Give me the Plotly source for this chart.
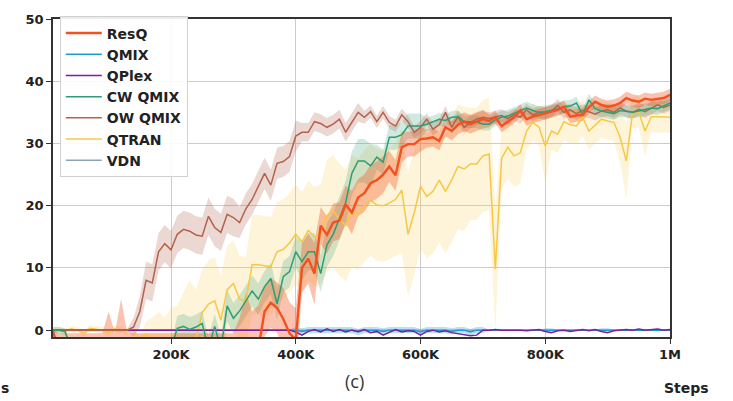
import plotly.graph_objects as go

steps = list(range(10000, 1000001, 10000))

resq = [
    0.0, -3, -3, -3, -3, -3, -3, -3, -3, -3,
    -3, -3, -3, -3, -3, -3, -3, -3, -3, -3,
    -3, -3, -3, -3, -3, -3, -3, -3, -3, -3,
    -3, -3, -3, -3,
    3.0, 4.4, 3.6, 1.8, -0.5, -1.5, 10.0, 11.5, 9.1, 16.8,
    15.3, 17.3, 17.6, 20.2, 18.9, 21.3, 22.0, 23.6, 24.1, 25.0,
    26.3, 24.9, 29.4, 29.9, 29.9, 30.7, 30.8, 31.0, 30.4, 32.6,
    32.0, 33.0, 33.5, 33.1, 33.5, 33.9, 33.6, 34.2, 32.8, 33.5,
    34.2, 35.3, 33.9, 34.3, 34.6, 34.8, 35.1, 35.4, 35.9, 34.3,
    34.5, 34.6, 35.8, 36.7, 36.2, 35.9, 36.1, 36.5, 37.3, 36.9,
    36.7, 37.2, 37.0, 37.1, 37.3, 37.8]
resq_std = [
    0.3, 2.5, 2.5, 2.5, 2.5, 2.5, 2.5, 2.5, 2.5, 6.0,
    2.5, 8.0, 2.5, 2.5, 2.5, 2.5, 2.5, 2.5, 2.5, 2.5,
    2.5, 2.5, 2.5, 2.5, 2.5, 2.5, 2.5, 2.5, 2.5, 2.5,
    5.0, 9.0, 6.0, 7.0, 4.0, 4.0, 4.0, 5.0, 5.0, 5.0,
    4.0, 4.0, 5.0, 3.0, 3.0, 3.0, 3.0, 3.0, 3.5, 3.0,
    3.0, 3.0, 3.0, 3.0, 2.5, 2.5, 2.5, 2.0, 2.0, 2.0,
    1.5, 1.5, 1.5, 1.5, 1.5, 1.5, 1.5, 1.5, 1.5, 1.5,
    1.0, 1.0, 1.0, 1.0, 1.0, 1.0, 1.0, 1.0, 1.0, 1.0,
    1.0, 1.0, 1.0, 1.0, 1.0, 1.0, 1.0, 1.0, 1.0, 1.0,
    1.0, 1.0, 1.0, 1.0, 1.0, 1.0, 1.0, 1.0, 1.0, 1.0]

qmix = [
    0, 0, 0, 0, 0, 0, 0, 0, 0, 0,
    0, 0, 0, 0, 0, 0, 0, 0, 0, 0,
    0, 0, 0, 0, 0, 0, 0, 0, 0, 0,
    0, 0, 0, 0, 0, 0, 0, 0, 0, 0,
    -0.2, 0, 0, 0, -0.1, 0, 0, 0, 0, -0.3,
    0, 0, 0, -0.2, 0, 0, 0, 0, 0, -0.3,
    0, 0, 0, 0, -0.2, 0, 0, -0.3, 0, 0,
    0, 0, 0, 0, 0, 0, 0, 0, 0, 0,
    0, 0, 0, 0, 0, 0, 0, 0, 0, 0,
    0, 0, 0, 0, 0, 0, 0, 0, 0, 0]
qmix_std = [
    0.1, 0.1, 0.1, 0.1, 0.1, 0.1, 0.1, 0.1, 0.1, 0.1,
    0.1, 0.1, 0.1, 0.1, 0.1, 0.1, 0.1, 0.1, 0.1, 0.1,
    0.1, 0.1, 0.1, 0.1, 0.1, 0.1, 0.1, 0.1, 0.1, 0.1,
    0.1, 0.1, 0.1, 0.1, 0.1, 0.1, 0.1, 0.1, 0.1, 0.5,
    0.5, 0.5, 0.5, 0.5, 0.5, 0.5, 0.5, 0.5, 0.5, 0.5,
    0.5, 0.5, 0.5, 0.5, 0.5, 0.5, 0.5, 0.5, 0.5, 0.5,
    0.5, 0.5, 0.5, 0.5, 0.5, 0.5, 0.5, 0.5, 0.5, 0.5,
    0.1, 0.1, 0.1, 0.1, 0.1, 0.1, 0.1, 0.1, 0.1, 0.3,
    0.3, 0.1, 0.1, 0.1, 0.1, 0.1, 0.1, 0.1, 0.3, 0.3,
    0.1, 0.1, 0.1, 0.1, 0.1, 0.1, 0.1, 0.1, 0.1, 0.1]

qplex = [
    0, 0, 0, 0, 0, 0, 0, 0, 0, 0,
    0, 0, 0, 0, 0, 0, 0, 0, 0, 0,
    0, 0, 0, 0, 0, 0, 0, 0, 0, 0,
    0, 0, 0, 0, 0, 0, 0, 0,
    0.0, -0.3, -0.8, -0.2, 0.1, -0.3, 0.2, -0.2, 0.1, -0.3,
    0.0, -0.2, 0.1, -0.4, -0.2, -0.8, -0.3, 0.1, -0.3, -0.1,
    -0.2, -0.8, -0.2, 0.0, -0.3, -0.1, -0.4, -0.6, -0.8, -0.9,
    -0.8, 0.0, 0.0, 0.1, 0.0, 0.0, 0.1, 0.0, -0.1, 0.0,
    0.1, -0.2, -0.4, -0.1, 0.0, -0.2, 0.0, 0.1, -0.1, 0.1,
    -0.2, -0.4, -0.1, 0.0, 0.1, 0.0, 0.2, 0.0, 0.1, 0.2,
    0.0, 0.1]

cw_qmix = [
    0.0, 0.0, -0.2, -3, -3, -3, -3, -3, -3, -3,
    -3, -3, -3, -3, -3, -3, -3, -3, -3, -3,
    0.3, 0.6, 0.1, 0.5, 1.1, -3, 0.6, -3, 3.9, 1.9,
    3.1, 4.7, 6.3, 5.0, 7.0, 8.3, 4.2, 8.6, 9.4, 12.6,
    11.0, 12.6, 12.6, 9.1, 13.7, 15.4, 17.8, 20.5, 25.2, 27.2,
    27.2, 26.4, 27.8, 27.0, 31.0, 31.0, 31.4, 32.8, 32.8, 32.8,
    33.1, 33.5, 33.9, 33.7, 34.2, 34.3, 33.5, 33.5, 33.5, 33.1,
    33.1, 33.8, 34.2, 34.4, 34.8, 35.2, 35.7, 35.3, 35.0, 35.1,
    35.3, 35.6, 35.9, 36.0, 36.5, 34.6, 37.0, 35.6, 35.2, 35.0,
    34.8, 35.3, 35.2, 35.0, 35.2, 35.5, 35.7, 35.6, 36.0, 36.5]
cw_qmix_std = [
    0.5, 0.5, 0.5, 0.5, 0.5, 0.5, 0.5, 0.5, 0.5, 0.5,
    0.5, 0.5, 0.5, 0.5, 0.5, 0.5, 0.5, 0.5, 0.5, 0.5,
    2.0, 2.0, 2.0, 2.0, 2.0, 2.0, 2.0, 2.0, 2.5, 2.5,
    2.5, 2.5, 2.5, 2.5, 2.5, 2.5, 2.5, 2.5, 2.5, 2.5,
    3.0, 3.0, 3.0, 3.0, 3.5, 3.5, 3.5, 3.5, 3.5, 3.5,
    3.5, 3.5, 2.0, 2.0, 2.0, 2.0, 2.0, 2.0, 2.0, 2.0,
    1.0, 1.0, 1.0, 1.0, 1.0, 1.0, 1.0, 1.0, 1.0, 1.0,
    1.0, 1.0, 1.0, 1.0, 1.0, 1.0, 1.0, 1.0, 1.0, 1.0,
    1.0, 1.0, 1.0, 1.0, 1.0, 1.0, 1.0, 1.0, 1.0, 1.0,
    1.0, 1.0, 1.0, 1.0, 1.0, 1.0, 1.0, 1.0, 1.0, 1.0]

ow_qmix = [
    0, 0, 0, 0, 0, 0, 0, 0, 0, 0,
    0, 0, 0, 0.5, 3.0, 8.0, 7.6, 12.6, 13.9, 12.9,
    15.4, 16.2, 15.9, 15.3, 15.1, 18.3, 16.5, 15.7, 18.6, 18.1,
    17.3, 19.5, 21.0, 23.1, 25.2, 23.3, 26.8, 27.1, 27.9, 31.2,
    31.8, 31.8, 33.5, 33.2, 32.6, 33.1, 33.9, 31.8, 33.5, 35.0,
    34.2, 35.1, 33.5, 35.0, 33.4, 32.8, 34.6, 33.5, 31.8, 32.6,
    33.9, 32.3, 33.0, 35.0, 32.6, 34.3, 32.6, 33.4, 33.9, 34.2,
    34.0, 34.3, 34.5, 34.0, 34.6, 34.2, 35.4, 34.6, 35.0, 34.8,
    35.2, 36.1, 35.0, 35.4, 34.8, 35.3, 35.1, 34.7, 35.2, 35.4,
    35.0, 35.7, 35.2, 35.0, 35.5, 35.1, 35.6, 36.2, 35.8, 36.2]
ow_qmix_std = [
    0.2, 0.2, 0.2, 0.2, 0.2, 0.2, 0.2, 0.2, 0.2, 0.2,
    0.2, 0.2, 0.2, 1.5, 2.5, 3.0, 3.0, 3.0, 3.0, 3.0,
    3.0, 3.0, 3.0, 3.0, 3.0, 3.0, 3.0, 3.0, 3.0, 3.0,
    2.5, 2.5, 2.5, 2.5, 2.5, 2.5, 2.5, 2.5, 2.5, 2.5,
    1.5, 1.5, 1.5, 1.5, 1.5, 1.5, 1.5, 1.5, 1.5, 1.5,
    1.0, 1.0, 1.0, 1.0, 1.0, 1.0, 1.0, 1.0, 1.0, 1.0,
    1.0, 1.0, 1.0, 1.0, 1.0, 1.0, 1.0, 1.0, 1.0, 1.0,
    1.0, 1.0, 1.0, 1.0, 1.0, 1.0, 1.0, 1.0, 1.0, 1.0,
    1.0, 1.0, 1.0, 1.0, 1.0, 1.0, 1.0, 1.0, 1.0, 1.0,
    1.0, 1.0, 1.0, 1.0, 1.0, 1.0, 1.0, 1.0, 1.0, 1.0]

qtran = [
    0.0, 0.1, -0.3, 0.2, 0.0, -0.5, 0.3, 0.1, 0.0, -0.4,
    0.2, 0.0, -0.3, 0.1, -2.0, -0.6, -2.0, -2.0, -2.0, -1.5,
    -2.0, -2.0, -2.0, -1.5, 2.8, 4.2, 4.7, 1.6, 6.5, 7.5,
    5.0, 4.7, 10.5, 10.5, 10.3, 10.2, 12.6, 13.0, 14.0, 15.4,
    14.2, 16.0, 15.0, 15.4, 18.4, 19.2, 17.8, 16.8, 19.2, 18.6,
    20.0, 20.9, 20.1, 20.0, 20.4, 21.0, 22.5, 15.4, 18.9, 23.1,
    21.5, 22.3, 24.1, 22.3, 24.1, 26.3, 25.9, 26.7, 26.7, 28.0,
    28.3, 9.8, 27.6, 29.4, 28.0, 28.5, 32.0, 33.4, 32.6, 29.6,
    32.0, 31.5, 33.5, 33.0, 32.8, 34.2, 32.0, 33.0, 33.9, 33.6,
    33.4, 31.0, 27.2, 35.0, 35.0, 32.0, 34.3, 34.3, 34.3, 34.2]
qtran_std = [
    0.5, 0.5, 0.5, 0.5, 0.5, 0.5, 0.5, 0.5, 0.5, 0.5,
    0.5, 0.5, 0.5, 0.5, 1.0, 2.0, 4.0, 5.0, 4.0, 5.0,
    6.0, 8.0, 10.0, 8.0, 7.0, 7.0, 7.0, 7.0, 7.0, 7.0,
    7.0, 7.0, 8.0, 8.0, 8.0, 8.0, 8.0, 8.0, 8.0, 8.0,
    8.0, 8.0, 8.0, 8.0, 9.0, 9.0, 9.0, 9.0, 9.0, 9.0,
    9.0, 9.0, 9.0, 9.0, 9.0, 9.0, 10.0, 10.0, 10.0, 10.0,
    10.0, 10.0, 10.0, 10.0, 10.0, 10.0, 10.0, 9.0, 9.0, 9.0,
    9.0, 10.0, 5.0, 5.0, 5.0, 5.0, 3.0, 3.0, 3.0, 6.0,
    3.0, 3.0, 3.0, 3.0, 3.0, 3.0, 3.0, 3.0, 3.0, 3.0,
    3.0, 4.0, 6.0, 2.5, 2.5, 4.0, 2.5, 2.5, 2.5, 2.5]

vdn = [
    0, 0, 0, 0, 0, 0, 0, 0, 0, 0,
    0, 0, 0, 0, 0, 0, 0, 0, 0, 0,
    0, 0, 0, 0, 0, 0, 0, 0, 0, 0,
    0, 0, 0, 0, 0, 0, 0, 0, 0, 0,
    0, 0, 0, 0, 0, 0, 0, 0, 0, 0,
    0, 0, 0, 0, 0, 0, 0, 0, 0, 0,
    0, 0, 0, 0, 0, 0, 0, 0, 0, 0,
    0, 0, 0, 0, 0, 0, 0, 0, 0, 0,
    0, 0, 0, 0, 0, 0, 0, 0, 0, 0,
    0, 0, 0, 0, 0, 0, 0, 0, 0, 0]

x_tickvals = [200000, 400000, 600000, 800000, 1000000]
x_ticktext = ["200K", "400K", "600K", "800K", "1M"]
y_tickvals = [0, 10, 20, 30, 40, 50]

series = [
    # name, mean, std, color, fill rgba, width, legend rank
    ("QTRAN", qtran, qtran_std, "#f6c844", "rgba(248,205,80,0.22)", 1.5, 6),
    ("VDN", vdn, None, "#8fa3b3", None, 1.5, 7),
    ("QMIX", qmix, qmix_std, "#1f9bd8", "rgba(31,155,216,0.30)", 1.5, 2),
    ("QPlex", qplex, None, "#7b1fa2", None, 1.5, 3),
    ("OW QMIX", ow_qmix, ow_qmix_std, "#b3624c", "rgba(179,98,76,0.25)", 1.5, 5),
    ("CW QMIX", cw_qmix, cw_qmix_std, "#2e9e72", "rgba(46,158,114,0.22)", 1.5, 4),
    ("ResQ", resq, resq_std, "#f4511e", "rgba(244,81,30,0.35)", 2.4, 1),
]

fig = go.Figure()

# bands first
for name, mean, std, color, fill, w, rank in series:
    if std is None:
        continue
    upper = [m + s for m, s in zip(mean, std)]
    lower = [m - s for m, s in zip(mean, std)]
    fig.add_trace(go.Scatter(x=steps, y=upper, mode="lines", line=dict(width=0),
                             showlegend=False, hoverinfo="skip"))
    fig.add_trace(go.Scatter(x=steps, y=lower, mode="lines", line=dict(width=0),
                             fill="tonexty", fillcolor=fill,
                             showlegend=False, hoverinfo="skip"))

for name, mean, std, color, fill, w, rank in series:
    fig.add_trace(go.Scatter(x=steps, y=mean, mode="lines", name=name,
                             line=dict(color=color, width=w), legendrank=rank))

axis_common = dict(
    showline=True, mirror=True, linecolor="#333333", linewidth=1.5,
    ticks="outside", ticklen=5, tickcolor="#333333", tickwidth=1.2,
    showgrid=True, gridcolor="#cccccc", gridwidth=1, zeroline=False,
    tickfont=dict(family="DejaVu Sans", size=13, color="#222222", weight="bold"),
)

fig.update_xaxes(range=[10800, 1000000], tickvals=x_tickvals, ticktext=x_ticktext,
                 **axis_common)
fig.update_yaxes(range=[-1.1, 50], tickvals=y_tickvals, **axis_common)

fig.update_layout(
    width=733, height=401,
    margin=dict(l=53, r=63, t=12, b=64),
    paper_bgcolor="white", plot_bgcolor="white",
    font=dict(family="DejaVu Sans", color="#222222"),
    legend=dict(
        x=0.011, y=1.008, xanchor="left", yanchor="top",
        traceorder="normal",
        bgcolor="rgba(255,255,255,0.9)", bordercolor="#d0d0d0", borderwidth=1,
        font=dict(family="DejaVu Sans", size=14, color="#222222", weight="bold"),
        itemwidth=36, tracegroupgap=0,
    ),
    annotations=[
        dict(text="(c)", x=0.489, y=-0.138, xref="paper", yref="paper",
             showarrow=False, xanchor="center", yanchor="middle",
             font=dict(family="Open Sans", size=18, color="#333333")),
        dict(text="Steps", x=1.027, y=-0.16, xref="paper", yref="paper",
             showarrow=False, xanchor="center", yanchor="middle",
             font=dict(family="DejaVu Sans", size=14, color="#222222", weight="bold")),
        dict(text="s", x=-0.078, y=-0.16, xref="paper", yref="paper",
             showarrow=False, xanchor="center", yanchor="middle",
             font=dict(family="DejaVu Sans", size=14, color="#222222", weight="bold")),
    ],
)

fig.write_html("out.html", config={"displayModeBar": False},
               post_script="document.body.style.margin='0';")
